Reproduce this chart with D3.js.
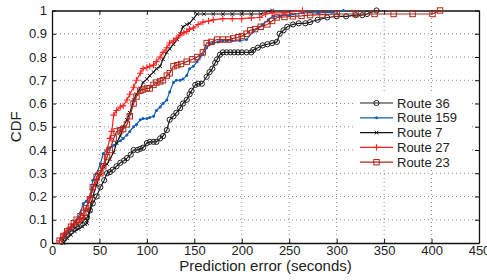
<!DOCTYPE html>
<html lang="en">
<head>
<meta charset="UTF-8">
<title>Prediction error CDF</title>
<script src="https://d3js.org/d3.v7.min.js"></script>
<style>
  body { margin: 0; background: #fff; font-family: 'Liberation Sans', Arial, sans-serif; }
  svg { display: block; }
</style>
</head>
<body>
<script>
// tick labels
const xTicks = [0, 50, 100, 150, 200, 250, 300, 350, 400, 450];
const yTicks = [0, 0.1, 0.2, 0.3, 0.4, 0.5, 0.6, 0.7, 0.8, 0.9, 1];

// series (prediction error in seconds, CDF)
const route36X = [10,13,16,20,23,26,30,34,37,40,43,47,51,55,58,61,64,68,72,76,79,83,86,90,93,96,100,103,107,110,114,117,121,124,128,131,135,138,142,145,147,151,154,158,163,166,169,172,174,177,180,184,188,192,196,200,205,210,212,217,222,227,232,237,240,244,248,254,260,267,272,280,290,300,310,320,327,332,342];
const route36Y = [0.005,0.02,0.04,0.05,0.06,0.07,0.08,0.1,0.11,0.14,0.17,0.2,0.24,0.27,0.3,0.305,0.315,0.33,0.345,0.355,0.365,0.38,0.4,0.4,0.405,0.41,0.43,0.435,0.435,0.435,0.45,0.46,0.486,0.53,0.545,0.56,0.58,0.6,0.616,0.64,0.655,0.68,0.685,0.685,0.715,0.735,0.75,0.775,0.79,0.81,0.82,0.82,0.82,0.82,0.82,0.82,0.82,0.82,0.83,0.84,0.85,0.855,0.86,0.865,0.9,0.915,0.93,0.94,0.945,0.945,0.95,0.96,0.97,0.975,0.975,0.98,0.98,0.985,1.0];

const route159X = [12,15,19,22,26,30,33,36,40,43,47,51,54,58,61,65,68,72,75,79,82,86,89,93,96,100,103,107,110,114,117,121,124,128,131,135,138,142,145,149,153,156,159,163,166,170,175,180,185,190,198,205,212,217,222,228,233,240,250,264,280,295,307];
const route159Y = [0.025,0.04,0.055,0.07,0.1,0.13,0.17,0.18,0.2,0.27,0.3,0.34,0.385,0.4,0.41,0.42,0.43,0.44,0.45,0.465,0.48,0.5,0.51,0.53,0.535,0.535,0.54,0.545,0.57,0.585,0.6,0.615,0.65,0.69,0.7,0.7,0.705,0.72,0.75,0.76,0.78,0.8,0.81,0.84,0.855,0.86,0.865,0.87,0.87,0.87,0.87,0.875,0.91,0.925,0.94,0.96,0.975,0.977,0.98,0.99,0.99,0.992,1.0];

const route7X = [12,16,20,24,28,32,35,37,40,43,47,51,54,58,61,65,68,72,75,79,82,86,89,93,96,100,103,107,110,114,117,121,124,128,132,135,138,142,145,149,153,160,170,180,190,200,210,220,232];
const route7Y = [0,0.02,0.035,0.05,0.06,0.07,0.08,0.085,0.14,0.2,0.25,0.3,0.33,0.34,0.36,0.39,0.43,0.46,0.5,0.53,0.56,0.615,0.64,0.665,0.69,0.705,0.72,0.735,0.75,0.76,0.79,0.82,0.835,0.855,0.875,0.9,0.93,0.94,0.945,0.965,0.985,0.985,0.985,0.985,0.985,0.985,0.985,0.985,1.0];

const route27X = [8,12,16,20,23,26,30,33,36,40,43,47,51,54,58,61,63,65,68,72,75,79,82,86,89,93,96,100,103,107,110,114,117,121,124,128,131,135,139,142,145,149,154,159,165,170,180,190,200,210,219,225,232,245,264];
const route27Y = [0.01,0.035,0.055,0.07,0.08,0.085,0.1,0.11,0.15,0.2,0.23,0.27,0.3,0.33,0.4,0.45,0.48,0.55,0.57,0.585,0.59,0.615,0.64,0.67,0.7,0.73,0.75,0.755,0.76,0.765,0.78,0.8,0.82,0.84,0.86,0.87,0.88,0.895,0.905,0.91,0.92,0.925,0.94,0.95,0.955,0.96,0.965,0.965,0.965,0.968,0.97,0.985,0.99,0.99,1.0];

const route23X = [8,12,16,20,23,26,30,33,36,40,43,47,51,54,58,61,65,68,72,75,79,82,86,89,93,96,100,103,107,110,114,117,121,124,128,132,136,142,148,153,159,163,168,174,180,186,191,196,200,205,209,214,220,227,232,237,245,254,263,272,285,300,320,340,360,380,401,409];
const route23Y = [0.01,0.03,0.05,0.07,0.085,0.1,0.115,0.13,0.15,0.185,0.24,0.285,0.3,0.33,0.37,0.4,0.45,0.48,0.485,0.49,0.51,0.545,0.6,0.63,0.655,0.66,0.665,0.665,0.68,0.69,0.695,0.7,0.72,0.73,0.76,0.765,0.77,0.78,0.79,0.8,0.82,0.86,0.865,0.875,0.875,0.875,0.88,0.885,0.89,0.9,0.915,0.92,0.93,0.94,0.955,0.97,0.972,0.975,0.977,0.98,0.982,0.985,0.985,0.985,0.985,0.985,0.985,1.0];

const seriesNames = ["Route 36", "Route 159", "Route 7", "Route 27", "Route 23"];
const seriesX = [route36X, route159X, route7X, route27X, route23X];
const seriesY = [route36Y, route159Y, route7Y, route27Y, route23Y];
const colors = ["#1e1e1e", "#0f5fb8", "#151515", "#ff2020", "#b0261a"];
const markers = ["circle", "dot", "x", "plus", "square"];

const W = 487, H = 280;
const m = { left: 52, right: 8, top: 10.5, bottom: 37 };

const svg = d3.select("body").append("svg").attr("width", W).attr("height", H);

const x = d3.scaleLinear().domain([0, 450]).range([m.left, W - m.right]);
const y = d3.scaleLinear().domain([0, 1]).range([H - m.bottom, m.top]);

// dotted grid
const grid = svg.append("g").attr("stroke", "#8a8a8a").attr("stroke-width", 1)
    .attr("stroke-dasharray", "1,3");
grid.selectAll(".gx").data(xTicks.slice(1, -1)).enter().append("line")
    .attr("x1", d => x(d)).attr("x2", d => x(d))
    .attr("y1", y(0)).attr("y2", y(1));
grid.selectAll(".gy").data(yTicks.slice(1, -1)).enter().append("line")
    .attr("x1", x(0)).attr("x2", x(450))
    .attr("y1", d => y(d)).attr("y2", d => y(d));

// axes with inward ticks, box
const fmtY = d => d === 0 ? "0" : d === 1 ? "1" : d3.format(".1f")(d);
const ax = svg.append("g").attr("transform", `translate(0,${y(0)})`)
    .call(d3.axisBottom(x).tickValues(xTicks).tickSizeInner(-4).tickSizeOuter(0).tickPadding(3));
const ay = svg.append("g").attr("transform", `translate(${x(0)},0)`)
    .call(d3.axisLeft(y).tickValues(yTicks).tickFormat(fmtY).tickSizeInner(-4).tickSizeOuter(0).tickPadding(5));
const at = svg.append("g").attr("transform", `translate(0,${y(1)})`)
    .call(d3.axisTop(x).tickValues(xTicks).tickSizeInner(-4).tickSizeOuter(0).tickFormat(""));
const ar = svg.append("g").attr("transform", `translate(${x(450)},0)`)
    .call(d3.axisRight(y).tickValues(yTicks).tickSizeInner(-4).tickSizeOuter(0).tickFormat(""));
[ax, ay, at, ar].forEach(g => {
  g.select(".domain").attr("stroke", "#111").attr("stroke-width", 1.3);
  g.selectAll(".tick line").attr("stroke", "#111");
  g.selectAll("text").attr("fill", "#222").style("font-size", "13px")
    .style("font-family", "'Liberation Sans', Arial, sans-serif");
});

function drawMarker(g, type, px, py, color) {
  if (type === "circle") {
    g.append("circle").attr("cx", px).attr("cy", py).attr("r", 2.6)
      .attr("fill", "none").attr("stroke", color).attr("stroke-width", 1);
  } else if (type === "dot") {
    g.append("circle").attr("cx", px).attr("cy", py).attr("r", 1.5).attr("fill", color);
  } else if (type === "x") {
    const s = 1.8;
    g.append("path").attr("d", `M${px-s},${py-s}L${px+s},${py+s}M${px-s},${py+s}L${px+s},${py-s}`)
      .attr("stroke", color).attr("stroke-width", 1);
  } else if (type === "plus") {
    const s = 3.2;
    g.append("path").attr("d", `M${px-s},${py}L${px+s},${py}M${px},${py-s}L${px},${py+s}`)
      .attr("stroke", color).attr("stroke-width", 1.1);
  } else if (type === "square") {
    const s = 2.7;
    g.append("rect").attr("x", px - s).attr("y", py - s).attr("width", 2 * s).attr("height", 2 * s)
      .attr("fill", "none").attr("stroke", color).attr("stroke-width", 1);
  }
}

const line = d3.line().x(d => x(d[0])).y(d => y(d[1]));

seriesNames.forEach((name, i) => {
  const pts = seriesX[i].map((v, j) => [v, seriesY[i][j]]);
  const g = svg.append("g");
  g.append("path").datum(pts).attr("d", line)
    .attr("fill", "none").attr("stroke", colors[i]).attr("stroke-width", 1.2);
  pts.forEach(p => drawMarker(g, markers[i], x(p[0]), y(p[1]), colors[i]));
});

// legend
const lg = svg.append("g");
lg.append("rect").attr("x", 353).attr("y", 94).attr("width", 118).attr("height", 76).attr("fill", "#fff");
seriesNames.forEach((name, i) => {
  const ly = 103 + i * 14.8;
  const g = lg.append("g");
  g.append("line").attr("x1", 360).attr("x2", 393).attr("y1", ly).attr("y2", ly)
    .attr("stroke", colors[i]).attr("stroke-width", 1.2);
  drawMarker(g, markers[i], 376.5, ly, colors[i]);
  g.append("text").attr("x", 397).attr("y", ly + 4.5).attr("fill", "#222")
    .style("font-size", "13px").text(name);
});

// axis titles
svg.append("text").attr("x", (x(0) + x(450)) / 2).attr("y", 271).attr("text-anchor", "middle")
  .attr("fill", "#222").style("font-size", "15px").text("Prediction error (seconds)");
svg.append("text").attr("transform", `translate(21,${(y(0) + y(1)) / 2}) rotate(-90)`)
  .attr("text-anchor", "middle").attr("fill", "#222").style("font-size", "15px").text("CDF");
</script>
</body>
</html>
